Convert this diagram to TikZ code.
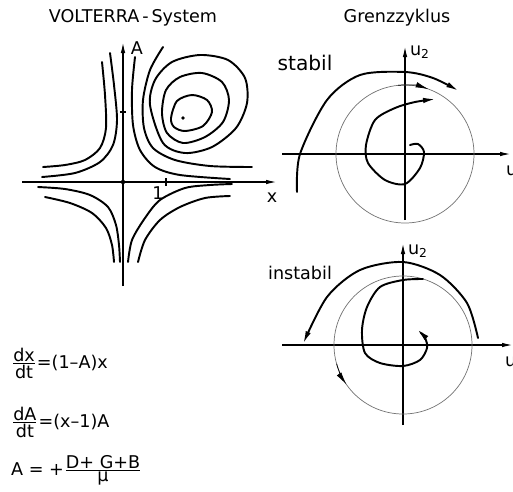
\documentclass[tikz,border=0pt]{standalone}
\usepackage{fontspec}
\setmainfont{DejaVu Sans}
\usetikzlibrary{arrows.meta}
\tikzset{
  axis/.style={line width=0.8pt,-{Latex[length=2.2mm,width=0.9mm]}},
  traj/.style={line width=1.1pt,line cap=round},
  trajtip/.style={traj,-{Latex[length=2.6mm,width=1.1mm]}},
  cyc/.style={line width=0.4pt,black!55},
}
\begin{document}
\begin{tikzpicture}[x=0.02cm,y=-0.02cm,font=\fontsize{10}{12}\selectfont]
\useasboundingbox (0,0) rectangle (513,491);
% titles
\node (tVolt) at (133,18) {VOLTERRA\,-\,System};
\node (tGrenz) at (397,18) {Grenzzyklus};
% Volterra phase plane
\coordinate (O) at (123,182);
\coordinate (xl) at (22,182);
\coordinate (xr) at (277,182);
\coordinate (Ab) at (123,286);
\coordinate (At) at (123,42);
\draw[axis] (xl) -- (xr);
\draw[axis] (Ab) -- (At);
\node (lA) at (137,48) {A};
\node (lx) at (272,198) {x};
\node (lone) at (158,193) {1};
\fill (O) circle[radius=2.2];
\draw[line width=0.8pt] (166,178) -- (166,186);
\draw[line width=0.8pt] (120,112) -- (126,112);
\fill (183,118) circle[radius=1.8];
% closed orbits
\draw[traj] plot[smooth cycle] coordinates {(171,118) (177,101) (192,95) (207,100) (212,112) (203,126) (185,131) (174,127)};
\draw[traj] plot[smooth cycle] coordinates {(162,113) (166,90) (180,77) (202,73) (222,82) (229,100) (223,122) (205,137) (183,143) (167,133)};
\draw[traj] plot[smooth cycle] coordinates {(150,105) (155,80) (172,62) (200,55) (228,60) (245,78) (247,103) (236,128) (212,147) (185,153) (163,143)};
% open trajectories
\draw[traj] plot[smooth] coordinates {(135,57) (132,90) (133,125) (140,150) (155,167) (180,175) (230,179)};
\draw[traj] plot[smooth] coordinates {(163,47) (150,70) (143,100) (144,128) (153,148) (175,160) (210,166) (252,167)};
\draw[traj] plot[smooth] coordinates {(110,53) (114,85) (117,120) (113,145) (100,162) (75,173) (42,177)};
\draw[traj] plot[smooth] coordinates {(102,62) (105,95) (106,128) (100,148) (85,160) (65,165) (43,167)};
\draw[traj] plot[smooth] coordinates {(38,187) (65,189) (90,195) (108,207) (116,225) (119,245) (120,262)};
\draw[traj] plot[smooth] coordinates {(45,197) (70,203) (92,213) (106,228) (112,245) (114,262)};
\draw[traj] plot[smooth] coordinates {(128,262) (132,240) (145,218) (160,200) (185,188) (210,185) (232,184)};
\draw[traj] plot[smooth] coordinates {(138,262) (145,240) (160,220) (180,207) (205,198) (230,196)};
% stable limit cycle
\coordinate (S) at (405,154);
\coordinate (Sl) at (282,154);
\coordinate (Sr) at (511,154);
\coordinate (Sb) at (405,220);
\coordinate (St) at (405,46);
\draw[axis] (Sl) -- (Sr);
\draw[axis] (Sb) -- (St);
\node (lSu2) at (420,52) {u\textsubscript{2}};
\node[anchor=west] (lSu1) at (500,172) {u\textsubscript{1}};
\node[font=\fontsize{11.5}{13}\selectfont] (lstab) at (305,63) {stabil};
\draw[cyc] (S) circle[radius=69];
\draw[cyc,-{Latex[length=2.6mm,width=1.1mm]},black] ([shift={(-96:69)}]S) arc[start angle=-96,end angle=-70,radius=69];
\draw[trajtip] plot[smooth] coordinates {(297,192) (300,154) (327,100) (360,75) (405,72) (433,78) (459,91)};
\draw[trajtip] plot[smooth] coordinates {(410,145) (418,144) (424,152) (420,168) (405,184) (385,180) (368,163) (366,145) (375,120) (395,108) (415,102) (436,99)};
% unstable limit cycle
\coordinate (U) at (403,345);
\coordinate (Ul) at (282,345);
\coordinate (Ur) at (513,345);
\coordinate (Ub) at (403,425);
\coordinate (Ut) at (403,243);
\draw[axis] (Ul) -- (Ur);
\draw[axis] (Ub) -- (Ut);
\node (lUu2) at (418,251) {u\textsubscript{2}};
\node[anchor=west] (lUu1) at (499,363) {u\textsubscript{1}};
\node (linst) at (300,273) {instabil};
\draw[cyc] (U) circle[radius=69];
\draw[cyc,-{Latex[length=2.6mm,width=1.1mm]},black] ([shift={(-196:69)}]U) arc[start angle=-196,end angle=-215,radius=69];
\draw[trajtip] plot[smooth] coordinates {(478,338) (467,303) (440,275) (403,262) (360,270) (327,297) (303,344)};
\draw[trajtip] plot[smooth] coordinates {(423,279) (403,280) (380,287) (367,307) (362,330) (365,353) (380,363) (403,366) (420,360) (427,348) (425,338) (417,329)};
% equations
\node[anchor=west] (eqx) at (5,363) {$\frac{\mbox{dx}}{\mbox{dt}}$=(1\textendash A)x};
\node[anchor=west] (eqA) at (5,422) {$\frac{\mbox{dA}}{\mbox{dt}}$=(x\textendash 1)A};
\node[anchor=west] (eqB) at (5,470) {A = +$\frac{\mbox{D+ G+B}}{\mbox{μ}}$};
\end{tikzpicture}
\end{document}
